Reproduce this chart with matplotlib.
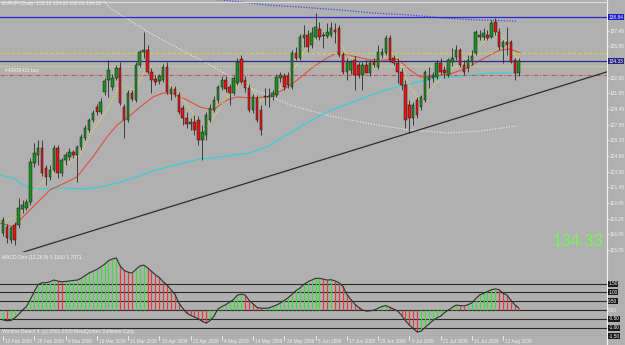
import numpy as np
import matplotlib.pyplot as plt
from matplotlib.patches import Rectangle
from matplotlib.lines import Line2D

# EURJPY daily bars, 13 Feb 2009 .. 18 Aug 2009
opens = [116.77, 117.39, 116.06, 117.59, 117.59, 119.23, 119.33, 119.94, 123.93, 124.74,
         125.46, 123.42, 122.50, 123.21, 125.46, 122.91, 124.23, 124.54, 125.05, 124.74,
         125.56, 126.48, 127.30, 128.32, 129.65, 129.14, 131.18, 132.41, 131.69, 132.61,
         133.63, 129.65, 128.32, 131.08, 130.36, 133.94, 135.27, 135.47, 133.22, 132.51,
         132.30, 132.41, 133.73, 131.08, 131.49, 130.87, 129.55, 128.52, 127.91, 128.12,
         128.32, 126.28, 126.79, 128.32, 129.34, 130.36, 131.69, 132.41, 131.69, 131.08,
         132.10, 134.55, 132.41, 131.59, 129.34, 130.57, 129.34, 130.67, 130.67, 130.67,
         130.87, 132.61, 132.81, 132.81, 131.69, 135.17, 134.65, 136.70, 137.00, 135.98,
         136.80, 137.62, 136.90, 136.90, 137.00, 137.52, 137.72, 134.96, 133.22, 133.43,
         134.45, 133.94, 132.92, 133.94, 133.12, 134.25, 133.73, 134.96, 135.17, 136.70,
         134.65, 134.14, 133.22, 131.90, 129.85, 128.52, 130.36, 129.65, 130.36, 132.41,
         132.61, 132.71, 134.14, 133.43, 132.92, 134.25, 134.76, 135.47, 133.94, 133.63,
         134.25, 135.17, 136.80, 136.80, 137.00, 136.80, 138.33, 137.31, 135.78, 136.29,
         136.29, 134.45, 133.12]
highs = [118.41, 117.69, 117.49, 117.90, 120.35, 120.15, 120.25, 124.44, 125.97, 126.28,
         126.28, 123.72, 123.72, 125.77, 125.77, 124.44, 125.05, 125.46, 125.26, 125.77,
         126.89, 127.81, 128.52, 129.34, 129.95, 130.57, 132.61, 134.45, 133.02, 133.94,
         134.25, 129.95, 131.39, 131.39, 134.25, 135.47, 137.31, 135.98, 133.63, 132.92,
         133.02, 134.04, 134.25, 131.79, 131.79, 131.18, 129.85, 129.14, 128.52, 128.83,
         128.73, 127.81, 129.14, 129.95, 130.77, 131.90, 132.81, 132.81, 132.00, 132.81,
         134.65, 134.96, 132.81, 132.00, 130.98, 130.87, 129.85, 131.59, 131.59, 131.39,
         133.02, 133.22, 133.12, 133.22, 135.47, 135.78, 137.11, 138.03, 137.52, 137.82,
         139.25, 138.33, 137.31, 138.23, 138.33, 138.23, 138.03, 135.27, 134.65, 134.45,
         134.86, 134.25, 134.25, 134.45, 134.45, 134.65, 135.98, 135.68, 137.00, 137.00,
         134.96, 134.65, 133.63, 132.41, 130.36, 130.16, 130.67, 130.87, 133.43, 133.73,
         133.22, 134.45, 134.65, 133.84, 134.65, 135.68, 135.98, 135.68, 134.45, 134.96,
         135.47, 137.52, 137.52, 137.72, 137.52, 138.54, 138.74, 137.72, 136.49, 137.82,
         136.49, 134.65, 134.65]
lows = [116.47, 115.75, 115.75, 115.55, 117.29, 118.82, 119.12, 119.63, 123.52, 123.72,
        122.60, 121.68, 122.19, 123.01, 122.39, 122.60, 123.72, 124.23, 124.44, 121.98,
        125.26, 126.28, 127.09, 128.12, 128.83, 128.93, 130.87, 130.67, 131.39, 132.41,
        129.85, 126.48, 128.12, 130.26, 130.16, 133.73, 134.65, 133.02, 131.08, 131.90,
        132.00, 132.20, 130.98, 130.36, 130.67, 128.93, 127.81, 127.50, 127.30, 126.79,
        125.77, 124.23, 126.28, 128.12, 129.14, 130.06, 131.39, 131.18, 129.85, 130.87,
        131.90, 132.00, 131.18, 129.14, 129.03, 128.12, 126.79, 129.85, 129.65, 130.36,
        130.67, 132.20, 131.39, 131.59, 131.49, 134.45, 134.45, 135.78, 135.27, 135.68,
        136.60, 136.49, 135.68, 136.70, 136.80, 136.19, 134.76, 133.02, 132.41, 133.02,
        131.39, 132.61, 131.39, 133.43, 132.81, 133.73, 133.53, 134.65, 134.96, 134.25,
        133.94, 132.10, 131.39, 127.50, 126.99, 127.81, 128.52, 129.34, 130.16, 131.59,
        132.20, 132.51, 132.92, 132.61, 132.71, 133.84, 134.45, 133.73, 132.92, 133.22,
        133.94, 134.96, 136.49, 136.49, 136.49, 136.70, 137.00, 135.47, 134.14, 134.96,
        134.14, 132.41, 132.81]
closes = [118.10, 116.26, 117.29, 116.06, 119.33, 119.63, 119.94, 124.03, 124.95, 125.46,
          122.91, 122.50, 123.21, 125.46, 122.91, 124.23, 124.74, 125.05, 124.74, 125.56,
          126.58, 127.50, 128.32, 129.03, 129.14, 130.16, 132.30, 133.43, 132.61, 133.63,
          130.06, 128.32, 131.08, 130.47, 133.94, 135.27, 135.47, 133.22, 132.41, 132.20,
          132.81, 133.73, 131.18, 131.49, 130.98, 129.14, 128.52, 127.91, 128.12, 127.30,
          126.28, 127.09, 128.83, 129.55, 130.36, 131.69, 132.41, 131.49, 131.08, 132.61,
          134.25, 132.20, 131.59, 129.34, 130.67, 128.32, 127.30, 130.67, 130.77, 131.08,
          132.71, 132.92, 131.69, 131.90, 135.17, 134.65, 136.80, 137.00, 135.78, 137.21,
          137.82, 136.80, 136.90, 137.31, 137.72, 137.31, 134.96, 133.22, 134.14, 134.25,
          132.92, 132.92, 133.94, 133.12, 134.14, 133.94, 135.27, 135.27, 136.70, 134.45,
          134.14, 133.22, 131.90, 128.32, 128.52, 129.85, 128.83, 130.67, 133.22, 132.71,
          132.92, 134.14, 133.22, 133.12, 134.45, 134.65, 135.47, 133.94, 133.22, 134.45,
          134.86, 137.31, 137.00, 137.21, 136.70, 138.23, 137.31, 135.78, 136.29, 135.98,
          134.25, 133.12, 134.33]

macd = [-0.57, -0.60, -0.60, -0.45, -0.25, 0.00, 0.20, 0.60, 1.05, 1.45,
        1.55, 1.55, 1.60, 1.70, 1.65, 1.60, 1.62, 1.65, 1.68, 1.70,
        1.80, 1.95, 2.10, 2.20, 2.30, 2.45, 2.60, 2.80, 2.90, 2.95,
        2.50, 2.25, 2.15, 2.10, 2.30, 2.50, 2.55, 2.40, 2.20, 2.00,
        1.85, 1.60, 1.42, 1.15, 0.90, 0.40, 0.10, -0.17, -0.30, -0.40,
        -0.50, -0.65, -0.74, -0.60, -0.35, 0.05, 0.20, 0.30, 0.45, 0.60,
        0.85, 0.90, 0.85, 0.55, 0.35, 0.15, 0.10, 0.10, 0.11, 0.20,
        0.28, 0.40, 0.55, 0.70, 0.90, 1.10, 1.25, 1.45, 1.60, 1.70,
        1.80, 1.80, 1.75, 1.70, 1.72, 1.65, 1.55, 1.35, 0.90, 0.60,
        0.35, 0.15, 0.00, -0.06, -0.05, 0.00, 0.10, 0.20, 0.25, 0.15,
        0.05, -0.05, -0.30, -0.60, -0.85, -1.05, -1.25, -1.20, -1.00, -0.80,
        -0.60, -0.45, -0.35, -0.15, 0.00, 0.15, 0.28, 0.25, 0.23, 0.30,
        0.40, 0.65, 0.85, 0.95, 1.05, 1.15, 1.20, 1.15, 0.95, 0.85,
        0.55, 0.30, 0.11]

date_labels = ['13 Feb 2009', '25 Feb 2009', '9 Mar 2009', '19 Mar 2009', '31 Mar 2009',
               '10 Apr 2009', '22 Apr 2009', '4 May 2009', '14 May 2009', '26 May 2009',
               '5 Jun 2009', '17 Jun 2009', '29 Jun 2009', '9 Jul 2009', '21 Jul 2009',
               '31 Jul 2009', '12 Aug 2009']
price_ticks = [137.45, 135.85, 132.65, 131.05, 129.45, 127.85, 126.25, 124.65,
               123.05, 121.45, 119.85, 118.25, 116.65, 115.05]

# moving averages, read as (bar, price) points
ma_red_x = [-0.8, 2.6, 6.9, 12.0, 16.4, 18.9, 23.0, 26.6, 29.2, 33.3, 35.1, 38.4, 41.0, 43.5,
            47.1, 50.4, 53.8, 57.3, 59.9, 64.0, 67.6, 71.7, 75.3, 79.4, 82.9, 85.5, 88.1,
            90.6, 94.0, 98.3, 100.9, 104.2, 106.8, 109.3, 112.6, 115.2, 118.8, 121.4, 124.7,
            127.2, 129.8, 132.4]
ma_red_y = [117.80, 117.39, 119.13, 121.17, 121.99, 122.50, 124.54, 126.58, 127.81, 129.03,
            129.65, 130.67, 131.08, 130.98, 130.36, 129.65, 129.34, 130.36, 130.67, 130.57,
            130.67, 131.38, 132.41, 133.73, 134.65, 135.17, 134.96, 134.76, 134.45, 134.45,
            134.55, 133.43, 132.71, 132.71, 132.92, 133.12, 133.63, 134.25, 134.96, 135.47,
            135.57, 135.17]
ma_cyan_x = [-0.8, 2.6, 6.1, 8.7, 14.6, 20.5, 24.8, 29.2, 33.3, 37.6, 42.0, 46.1, 50.4, 53.8,
             58.9, 63.2, 67.6, 71.7, 76.0, 80.4, 82.9, 88.8, 96.5, 101.6, 104.2, 109.3,
             114.4, 119.6, 125.4, 131.6]
ma_cyan_y = [122.70, 122.39, 121.47, 121.27, 121.37, 121.27, 121.47, 121.88, 122.39, 123.01,
             123.52, 123.93, 124.34, 124.44, 124.74, 124.95, 125.56, 126.58, 127.60, 128.63,
             129.14, 130.06, 131.18, 131.79, 131.99, 132.51, 132.71, 132.92, 133.12, 133.12]
ma_yellow_x = [0, 4.4, 8.2, 12.0, 15.9, 19.7, 23.0, 26.6, 30.0, 33.8, 36.4, 40.2, 44.0, 47.9,
               51.7, 54.3, 58.1, 62.0, 65.8, 69.6, 73.5, 77.3, 81.2, 85.0, 87.6, 91.4, 95.2,
               99.1, 101.6, 104.2, 106.8, 110.6, 114.4, 118.3, 122.1, 126.0, 128.5, 131.1,
               132.4]
ma_yellow_y = [117.90, 118.61, 121.17, 122.70, 123.72, 124.74, 127.30, 129.34, 131.90, 131.39,
               133.43, 132.61, 131.59, 129.34, 127.30, 128.83, 131.18, 132.41, 130.36, 130.87,
               132.92, 135.47, 137.00, 137.00, 135.27, 133.63, 133.94, 135.27, 134.45, 131.59,
               130.36, 131.90, 133.43, 134.45, 135.98, 137.31, 136.49, 134.96, 134.45]
ma_white_x = [24.8, 27.4, 37.6, 47.1, 53.0, 63.2, 73.5, 83.7, 94.0, 104.2, 114.4, 122.1, 131.6]
ma_white_y = [140.90, 139.76, 137.21, 135.17, 133.94, 131.59, 129.85, 128.73, 127.91, 127.30,
              126.99, 127.20, 127.71]
ma_blue_x = [50.4, 58.6, 67.6, 76.0, 86.3, 94.7, 104.2, 112.6, 121.4, 131.6]
ma_blue_y = [140.78, 140.48, 140.07, 139.86, 139.56, 139.25, 139.05, 138.74, 138.54, 138.43]

# horizontal objects and trend line anchors
hline_top = 138.84
bid = 134.33
level_yellow = 135.17
level_yellow_dot = 133.84
order_price = 132.92
trend_x = [7, 104]
trend_y = [115.04, 127.00]
macd_levels = [1.5, 1.0, 0.5, 0.0, -0.5, -1.0, -1.5]

BG = '#b0b0b0'
WHITE = '#f2f2f2'
SMALL = 'Liberation Sans'
fig = plt.figure(figsize=(6.25, 3.45), dpi=100, facecolor=BG)


def box(x0, y0, x1, y1):
    return [x0 / 625, 1 - y1 / 345, (x1 - x0) / 625, (y1 - y0) / 345]


ax = fig.add_axes(box(0, 0, 607, 252))
ax2 = fig.add_axes(box(0, 252, 607, 336))
axd = fig.add_axes(box(0, 336, 607, 345))
xlim = (-0.77, 154.6)
for a in (ax, ax2, axd):
    a.set_facecolor(BG)
    a.set_xlim(*xlim)
    a.set_xticks([])
    for s in a.spines.values():
        s.set_visible(False)
ax.set_ylim(114.83, 140.58)
ax2.set_ylim(-1.477, 3.295)
axd.set_ylim(0, 1)
axd.set_yticks([])

# price axis on the right
ax.yaxis.tick_right()
ax.set_yticks(price_ticks)
ax.set_yticklabels([f'{p:.2f}' for p in price_ticks], family=SMALL)
ax.tick_params(axis='y', colors=WHITE, labelsize=3.5, length=1.2, width=0.5, pad=0.8)
for a in (ax, ax2):
    for side in ('right', 'bottom'):
        a.spines[side].set_visible(True)
        a.spines[side].set_color(WHITE)
        a.spines[side].set_linewidth(0.8)

idx = np.arange(len(closes))

# moving averages
ax.plot(ma_blue_x, ma_blue_y, color='#4848e0', lw=0.9, ls=(0, (1, 1.2)))
ax.plot(ma_white_x, ma_white_y, color='#ececec', lw=0.8, ls=(0, (1, 1.5)))
ax.plot(ma_cyan_x, ma_cyan_y, color='#3ccfd6', lw=0.9)
ax.plot(ma_red_x, ma_red_y, color='#e0503c', lw=0.8)
ax.plot(ma_yellow_x, ma_yellow_y, color='#ece23a', lw=0.8, ls=(0, (1, 1.5)))

# horizontal objects
ax.axhline(hline_top, color='#2a2ad2', lw=0.9)
ax.axhline(level_yellow, color='#d8d040', lw=0.8, ls=(0, (3, 2)))
ax.axhline(bid, color='#2c2c8c', lw=0.9)
ax.axhline(level_yellow_dot, color='#e4de6c', lw=0.8, ls=(0, (1, 1.5)))
ax.axhline(order_price, color='#c85454', lw=0.8, ls=(0, (4, 1.5, 1, 1.5)))
ax.text(0.5, order_price + 0.2, '#40936415 buy', color=WHITE, fontsize=3.5,
        va='bottom', family=SMALL)

# trend line (ray)
slope = (trend_y[1] - trend_y[0]) / (trend_x[1] - trend_x[0])
tx = np.array([xlim[0], xlim[1]])
ax.plot(tx, trend_y[0] + slope * (tx - trend_x[0]), color='#2e2e2e', lw=0.9)

# candles
for i in idx:
    o, h, l, c = opens[i], highs[i], lows[i], closes[i]
    ax.plot([i, i], [l, h], color='#2a2a2a', lw=0.6, solid_capstyle='butt', zorder=3)
    col = '#1e901e' if c >= o else '#e81414'
    body = max(abs(c - o), 0.08)
    ax.add_patch(Rectangle((i - 0.32, min(o, c)), 0.64, body, facecolor=col,
                           edgecolor='#1a1a1a', lw=0.35, zorder=4))

# axis boxes
ax.text(xlim[1] + 0.35, hline_top, f'{hline_top:.2f}', color='white', fontsize=3.5,
        va='center', ha='left', clip_on=False, family=SMALL,
        bbox=dict(boxstyle='square,pad=0.12', fc='#1c1cc8', ec='none'))
ax.text(xlim[1] + 0.35, bid, f'{bid:.2f}', color='white', fontsize=3.5,
        va='center', ha='left', clip_on=False, family=SMALL,
        bbox=dict(boxstyle='square,pad=0.12', fc='#262680', ec='none'))

ax.text(0.004, 0.997, f'EURJPY,Daily  {opens[-1]:.2f} {highs[-1]:.2f} {lows[-1]:.2f} {closes[-1]:.2f}',
        transform=ax.transAxes, color=WHITE, fontsize=3.6, va='top', ha='left', family=SMALL)
ax.text(0.995, 0.012, f'{closes[-1]:.2f}', transform=ax.transAxes, color='#70f850',
        fontsize=12, ha='right', va='bottom', family=SMALL)

# MACD panel
hist_col = ['#3fdc3f' if i == 0 or macd[i] >= macd[i - 1] else '#e03c3c' for i in idx]
for lv in macd_levels:
    ax2.axhline(lv, color='#2a2a2a', lw=0.8, zorder=1)
ax2.vlines(idx, 0, macd, colors=hist_col, lw=0.9, zorder=2)
ax2.plot(idx, macd, color='#303030', lw=0.8, zorder=3)
ax2.set_yticks([])
for lv in macd_levels:
    if lv == 0:
        ax2.text(xlim[1] + 0.35, lv, '0.00', color=WHITE, fontsize=3.4, va='center',
                 clip_on=False, family=SMALL)
    else:
        ax2.text(xlim[1] + 0.35, lv, f'{lv:.2f}', color='white', fontsize=3.4, va='center',
                 clip_on=False, family=SMALL,
                 bbox=dict(boxstyle='square,pad=0.12', fc='#1a1a1a', ec='none'))
ax2.text(0.004, 0.97, f'MACD Dev (12,26,9) {macd[-1]:.4f} 1.7071', transform=ax2.transAxes,
         color=WHITE, fontsize=3.6, va='top', family=SMALL)
ax2.text(0.004, 0.02, 'Window Detect 4, (c) 2001-2009 MetaQuotes Software Corp.',
         transform=ax2.transAxes, color=WHITE, fontsize=3.5, va='bottom', family=SMALL)

# date axis
for k, lab in enumerate(date_labels):
    pos = 8 * k
    axd.plot([pos, pos], [0.55, 1.0], color=WHITE, lw=0.6)
    axd.text(pos + 0.6, 0.42, lab, color=WHITE, fontsize=3.4, va='center', ha='left',
             family=SMALL)
axd.spines['right'].set_visible(True)
axd.spines['right'].set_color(WHITE)

fig.add_artist(Line2D([0, 607 / 625], [1 - 1.5 / 345] * 2, color='#dedede', lw=0.8))

fig.savefig('out.png', dpi=100, facecolor=BG)
